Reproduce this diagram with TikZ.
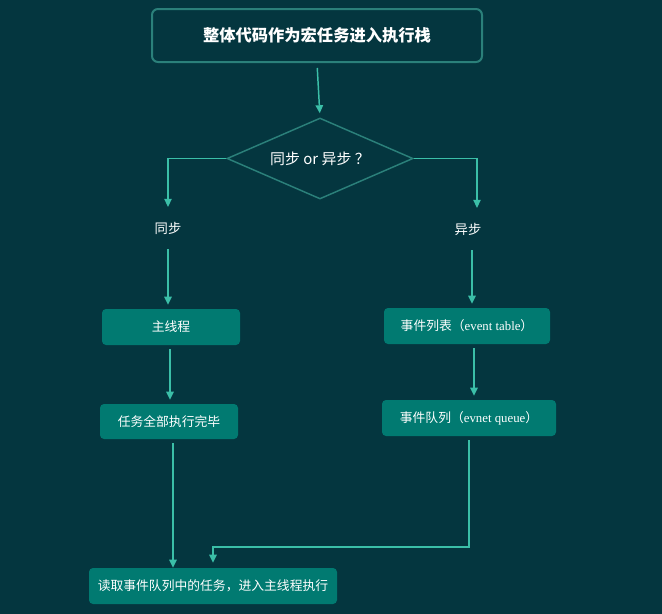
\documentclass[tikz,border=0pt]{standalone}
\usepackage{fontspec}
\setmainfont{Noto Sans CJK SC}
\newfontfamily\lat{Liberation Serif}
\usetikzlibrary{shapes.geometric,arrows.meta}
\definecolor{bg}{HTML}{04363F}
\definecolor{boxfill}{HTML}{017A71}
\definecolor{edge}{HTML}{3BBFA8}
\definecolor{frame}{HTML}{2B807A}
\tikzset{
  px/.style={x=0.75pt,y=-0.75pt},
  procbox/.style={rectangle,rounded corners=3pt,fill=boxfill,text=white,font=\fontsize{9.6}{11}\selectfont,inner sep=0pt},
  titlebox/.style={rectangle,rounded corners=4.5pt,draw=frame,line width=1.5pt,fill=bg,text=white,font=\fontsize{12.2}{14}\selectfont\bfseries,inner sep=0pt},
  decision/.style={diamond,aspect=2.3,draw=frame,line width=1.1pt,text=white,font=\fontsize{11.2}{13}\selectfont,inner sep=0pt},
  lbl/.style={text=white,font=\fontsize{10}{12}\selectfont,inner sep=0pt},
  conn/.style={draw=edge,line width=1.1pt,-{Triangle[width=5.5pt,length=6pt]}}
}
\begin{document}
\begin{tikzpicture}[px]
\fill[bg] (0,0) rectangle (662,614);
\useasboundingbox (0,0) rectangle (662,614);
\node[titlebox,minimum width=247.5pt,minimum height=39.75pt] (top) at (317,35.5) {整体代码作为宏任务进入执行栈};
\node[decision,minimum width=139.5pt,minimum height=60.75pt] (d) at (320,158.5) {同步 or 异步 ？};
\node[lbl] (sync) at (168,228) {同步};
\node[lbl] (async) at (468,229) {异步};
\node[procbox,minimum width=103.5pt,minimum height=27pt] (main) at (171,327) {主线程};
\node[procbox,minimum width=124.5pt,minimum height=27pt] (table) at (467,326) {事件列表（{\lat event table}）};
\node[procbox,minimum width=103.5pt,minimum height=26.25pt] (done) at (169,421.5) {任务全部执行完毕};
\node[procbox,minimum width=130.5pt,minimum height=27pt] (queue) at (469,418) {事件队列（{\lat evnet queue}）};
\node[procbox,minimum width=186pt,minimum height=27pt] (final) at (213,586) {读取事件队列中的任务，进入主线程执行};
\coordinate (bend) at (469,547);

\draw[conn,shorten <=3.75pt,shorten >=3pt] (top.south) -- (d.north);
\draw[conn,shorten >=11pt] (d.west) -| (sync.north);
\draw[conn,shorten >=11pt] (d.east) -| ([xshift=6.75pt]async.north);
\draw[conn,shorten <=11pt,shorten >=3pt] (sync.south) -- (sync.south |- main.north);
\draw[conn,shorten <=11pt,shorten >=3pt] ([xshift=3pt]async.south) -- ([xshift=3pt]async.south |- table.north);
\draw[conn,shorten <=3pt,shorten >=3pt] ([xshift=-0.75pt]main.south) -- ([xshift=-0.75pt]main.south |- done.north);
\draw[conn,shorten <=3pt,shorten >=3pt] ([xshift=5.25pt]table.south) -- ([xshift=5.25pt]table.south |- queue.north);
\draw[conn,shorten <=3pt] ([xshift=3pt]done.south) -- ([xshift=3pt]done.south |- final.north);
\draw[conn,shorten <=3pt,shorten >=3.75pt] (queue.south) -- (bend) -| (final.north);
\end{tikzpicture}
\end{document}
